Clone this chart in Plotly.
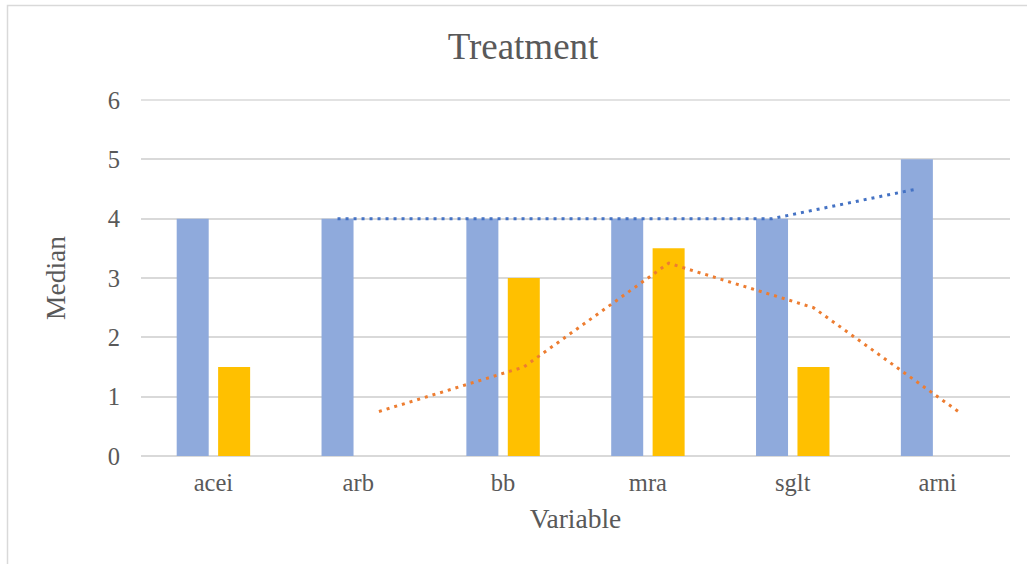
import plotly.graph_objects as go
import numpy as np

categories = ["acei", "arb", "bb", "mra", "sglt", "arni"]
blue_values = [4, 4, 4, 4, 4, 5]
orange_values = [1.5, 0, 3, 3.5, 1.5, 0]
# 2-period moving-average trendlines (start at "arb")
blue_trend = [4, 4, 4, 4, 4.5]
orange_trend = [0.75, 1.5, 3.25, 2.5, 0.75]
y_ticks = [0, 1, 2, 3, 4, 5, 6]

BLUE = "#8FAADC"
ORANGE = "#FFC000"
BLUE_LINE = "#4472C4"
ORANGE_LINE = "#ED7D31"
TEXT = "#595959"
GRID = "#D9D9D9"
FONT = "Liberation Serif, Times New Roman, serif"

idx = np.arange(len(categories))
bw = 0.221
off = 0.143

fig = go.Figure()
fig.add_bar(x=idx, y=blue_values, width=bw, offset=-off - bw / 2,
            marker=dict(color=BLUE, line=dict(width=0)), name="series1")
fig.add_bar(x=idx, y=orange_values, width=bw, offset=off - bw / 2,
            marker=dict(color=ORANGE, line=dict(width=0)), name="series2")
fig.add_scatter(x=idx[1:] - off, y=blue_trend, mode="lines",
                line=dict(color=BLUE_LINE, width=3, dash="3px,5px"), name="trend1")
fig.add_scatter(x=idx[1:] + off, y=orange_trend, mode="lines",
                line=dict(color=ORANGE_LINE, width=3, dash="3px,5px"), name="trend2")

L, R, T, B = 141, 1010, 100, 456
W, H = 1027, 564
pw, ph = R - L, B - T

fig.add_shape(type="rect", xref="paper", yref="paper",
              x0=(7.5 - L) / pw, x1=(1040 - L) / pw,
              y0=(B - 580) / ph, y1=(B - 5.5) / ph,
              line=dict(color="#D9D9D9", width=1.5), fillcolor="rgba(0,0,0,0)",
              layer="below")
# top gridline (plotly skips the gridline lying on the plot edge)
fig.add_shape(type="line", xref="paper", yref="paper", x0=0, x1=1,
              y0=1, y1=1,
              line=dict(color=GRID, width=1.5), layer="below")

fig.update_layout(
    width=W, height=H,
    margin=dict(l=L, r=W - R, t=T, b=H - B),
    paper_bgcolor="white", plot_bgcolor="white",
    showlegend=False,
    font=dict(family=FONT, color=TEXT, size=24.5),
    title=dict(text="Treatment", x=523 / W, xref="container", xanchor="center",
               y=1 - 46 / H, yref="container", yanchor="middle",
               font=dict(size=37, color=TEXT, family=FONT)),
    xaxis=dict(range=[-0.5, 5.5], tickvals=idx, ticktext=categories,
               showgrid=False, zeroline=False, showline=False, ticks="",
               ticklabelstandoff=9,
               title=dict(text="Variable", font=dict(size=27.5, color=TEXT), standoff=14)),
    yaxis=dict(range=[0, 6], tickvals=y_ticks, showgrid=True, gridcolor=GRID,
               gridwidth=1.5, zeroline=True, zerolinecolor=GRID, zerolinewidth=1.5,
               showline=False, ticks="", ticklabelstandoff=20,
               title=dict(text="Median", font=dict(size=27.5, color=TEXT), standoff=34)),
)

fig.write_html("out.html")
